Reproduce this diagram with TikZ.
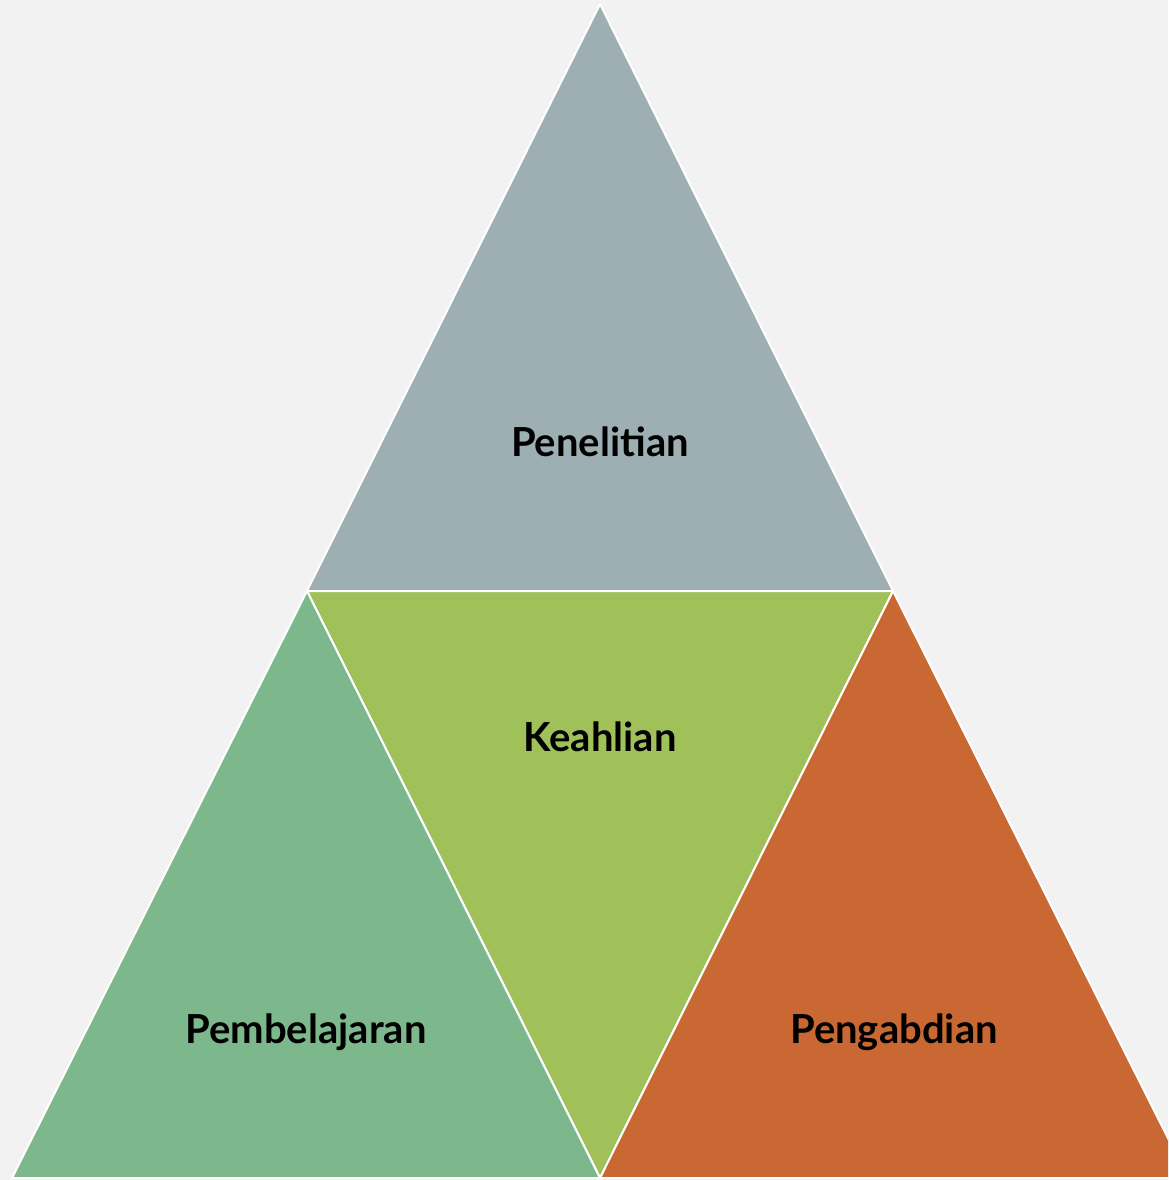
\documentclass[tikz,border=0pt]{standalone}
\usepackage{fontspec}
\setmainfont{Lato}
\definecolor{bg}{HTML}{F2F2F2}
\definecolor{cgray}{HTML}{9EAFB4}
\definecolor{cgreen}{HTML}{A0C15A}
\definecolor{cleft}{HTML}{7DB88C}
\definecolor{cright}{HTML}{C96832}
\begin{document}
\begin{tikzpicture}[x=1pt,y=-1pt,
  tri/.style={draw=white,line width=2pt,line join=round},
  lbl/.style={font=\fontsize{40}{46}\selectfont\bfseries,text=black,inner sep=0pt}]
\useasboundingbox (0,0) rectangle (1168,1180);
\fill[bg] (0,0) rectangle (1168,1180);
\clip (0,0) rectangle (1168,1180);
\coordinate (T) at (600,4);
\coordinate (L) at (307,591);
\coordinate (R) at (893,591);
\coordinate (B) at (600,1178);
\coordinate (BL) at (12,1178);
\coordinate (BR) at (1188,1178);
\filldraw[tri,fill=cgray] (T) -- (R) -- (L) -- cycle;
\filldraw[tri,fill=cgreen] (L) -- (R) -- (B) -- cycle;
\filldraw[tri,fill=cleft] (L) -- (B) -- (BL) -- cycle;
\filldraw[tri,fill=cright] (R) -- (BR) -- (B) -- cycle;
\node[lbl] (pen) at (600,442) {Penelitian};
\node[lbl] (kea) at (600,737) {Keahlian};
\node[lbl] (pem) at (306,1032) {Pembelajaran};
\node[lbl] (pga) at (894,1032) {Pengabdian};
\end{tikzpicture}
\end{document}
